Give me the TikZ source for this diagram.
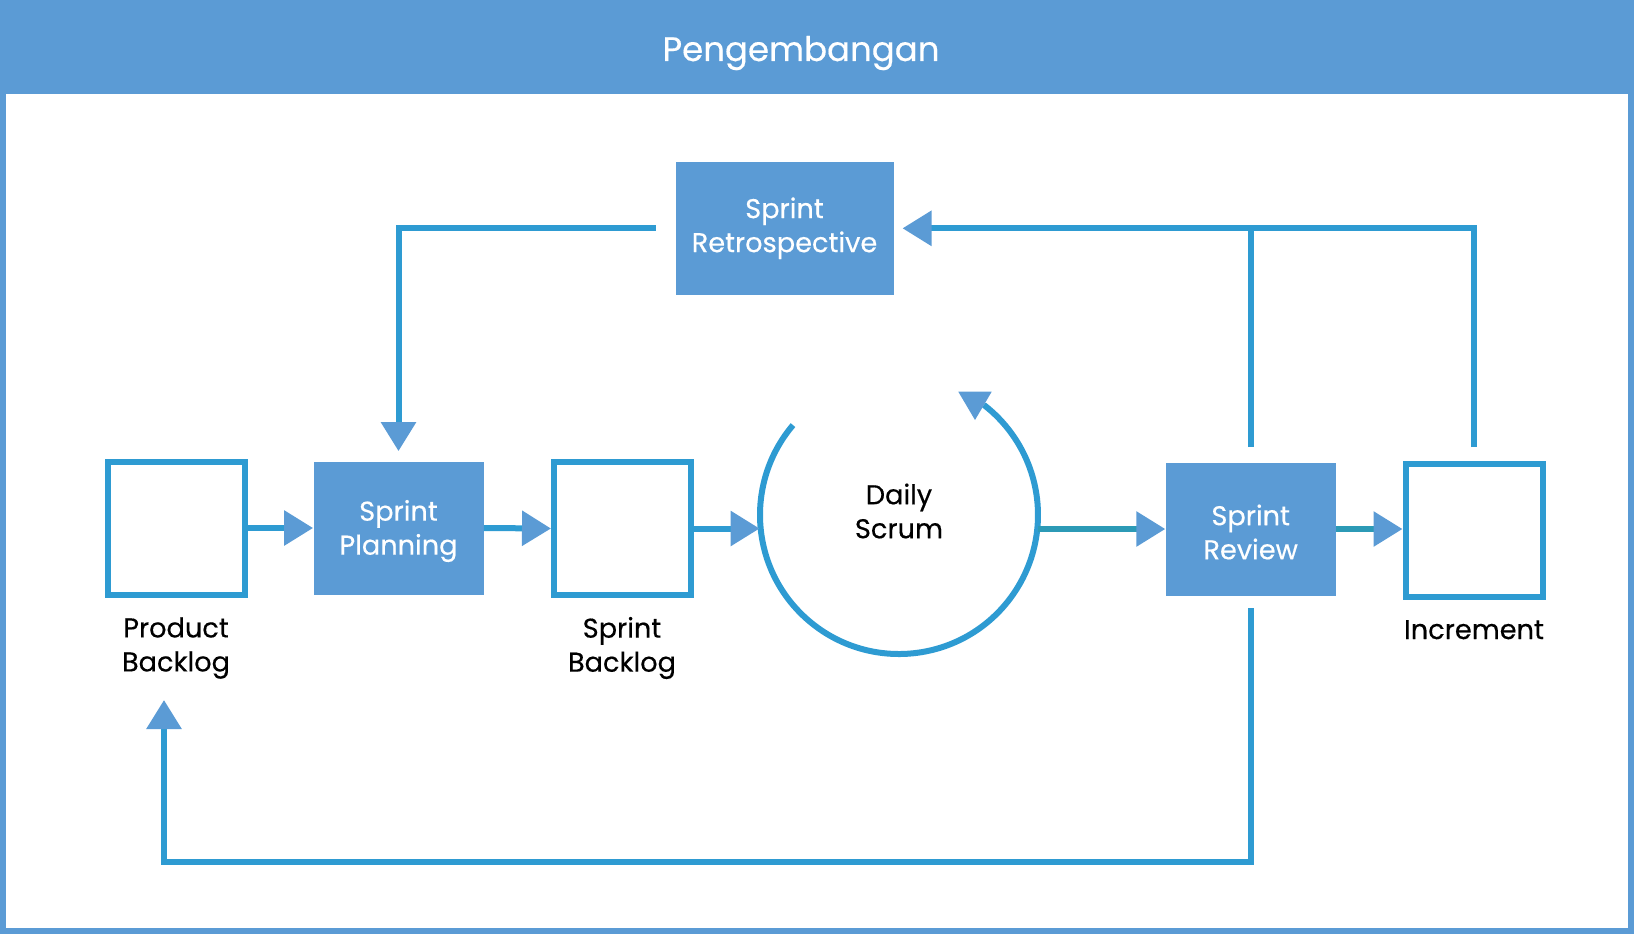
\documentclass[tikz,border=0pt]{standalone}
\usepackage{fontspec}
\setmainfont{Poppins}[FakeBold=0.4]
\usetikzlibrary{arrows.meta}
\definecolor{hdr}{RGB}{91,155,213}
\definecolor{ln}{RGB}{46,155,210}
\definecolor{tl}{RGB}{44,154,182}
\begin{document}
\begin{tikzpicture}[x=0.5pt,y=-0.5pt,
  outbox/.style={draw=ln, line width=3pt, fill=white, minimum width=68.5pt, minimum height=66.5pt, inner sep=0pt},
  fillbox/.style={fill=hdr, minimum width=85pt, minimum height=66.5pt, inner sep=0pt},
  boxtext/.style={align=center, text=white, inner sep=0pt, font=\fontsize{13.6}{17}\selectfont},
  lab/.style={align=center, font=\fontsize{13.6}{17}\selectfont, text=black, inner sep=0pt},
  conn/.style={draw=ln, line width=3pt},
  tip/.style={-{Triangle[length=14.5pt, width=17pt, color=hdr]}}
]
\useasboundingbox (0,0) rectangle (1634,934);
% frame and header
\fill[hdr] (0,0) rectangle (1634,94);
\draw[hdr, line width=3pt] (3,3) rectangle (1631,931);
\node[text=white, font=\fontsize{17}{20}\selectfont] (title) at (801,53) {Pengembangan};
% nodes
\node[outbox] (pb) at (176,528) {};
\node[fillbox] (sp) at (398.5,528) {};
\node[boxtext] (spt) at ([yshift=-1.5pt]sp.center) {Sprint\\Planning};
\node[outbox] (sb) at (622.5,528.5) {};
\node[circle, minimum size=139pt, inner sep=0pt] (ds) at (899,515) {};
\node[lab] (dst) at (899,511) {Daily\\Scrum};
\node[fillbox] (rv) at (1250.7,529) {};
\node[boxtext] (rvt) at ([yshift=-1.5pt]rv.center) {Sprint\\Review};
\node[outbox] (inc) at (1474,530.5) {};
\node[fillbox, minimum width=109pt] (rt) at (784.5,228.3) {};
\node[boxtext] (rtt) at ([yshift=0pt]rt.center) {Sprint\\Retrospective};
% labels
\node[lab] (pbl) at (176,648) {Product\\Backlog};
\node[lab] (sbl) at (622,648) {Sprint\\Backlog};
\node[lab, anchor=base] (incl) at (1474,639) {Increment};
% daily scrum loop
\draw[conn] (ds.center) ++(220.3:139) arc[start angle=220.3, end angle=-52.4, radius=139];
\fill[hdr] (958.3,391.7) -- (991.7,391.7) -- (975,420) -- cycle;
% connectors
\draw[conn, tip] (pb.east) -- (sp.west);
\draw[conn, tip] (sp.east) -- (sb.west);
\draw[conn, tip] (sb.east) -- (sb.east -| ds.west);
\draw[conn, draw=tl, tip] (ds.east |- rv.west) -- (rv.west);
\draw[conn, draw=tl, tip] (rv.east) -- (inc.west |- rv.east);
% retrospective feedback
\draw[conn] ([yshift=7.5pt]rv.north) -- (rv.north |- rt.east);
\draw[conn, tip] ([yshift=7pt]inc.north) |- ([xshift=4.3pt]rt.east);
\draw[conn, tip] ([xshift=-9.6pt]rt.west) -| ([yshift=5pt]sp.north);
% back to product backlog
\coordinate (bl) at (164,862);
\coordinate (pbin) at (164,700);
\draw[conn, tip] ([yshift=-6.15pt]rv.south) -- (rv.south |- bl) -- (bl) -- (pbin);
\end{tikzpicture}
\end{document}
